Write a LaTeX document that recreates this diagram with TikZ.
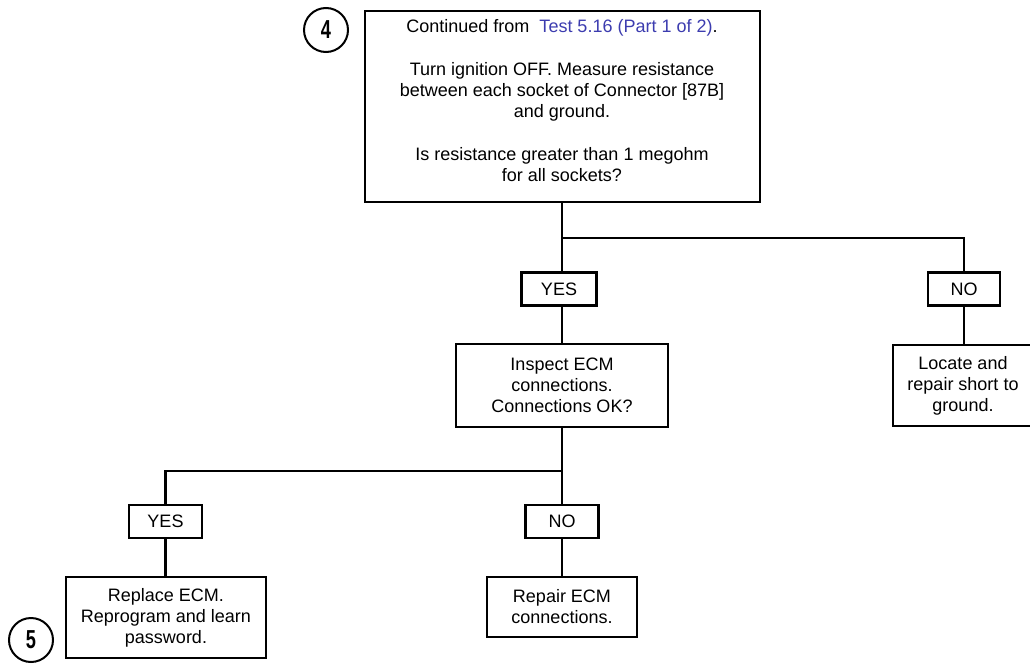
\documentclass[tikz,border=0pt]{standalone}
\usepackage{fontspec}
\setmainfont{Liberation Sans}
\usetikzlibrary{positioning}
\definecolor{linkblue}{RGB}{60,60,175}
\begin{document}
\begin{tikzpicture}[x=1pt,y=-1pt,
  every node/.style={inner sep=0pt, outer sep=0pt},
  boxed/.style={draw=black, line width=2.3pt, rectangle, align=center,
    font=\fontsize{18}{21}\selectfont},
  plain/.style={align=center, font=\fontsize{18}{21}\selectfont},
  lbl/.style={boxed, minimum width=75pt, minimum height=33pt},
  circ/.style={draw=black, circle, line width=2pt, minimum size=44pt,
    font=\fontsize{26}{26}\selectfont\bfseries},
  conn/.style={line width=2.2pt}]
\useasboundingbox (0,0) rectangle (1030,664);
\node[boxed, minimum width=395pt, minimum height=191pt] (top) at (562.5,106.5) {};
\node[plain] (toptext) at (562,101)
  {Continued from \ \textcolor{linkblue}{Test 5.16 (Part 1 of 2)}.\\[22pt]
   Turn ignition OFF. Measure resistance\\
   between each socket of Connector [87B]\\
   and ground.\\[22pt]
   Is resistance greater than 1 megohm\\
   for all sockets?};
\node[circ] (c4) at (326,30) {\scalebox{0.7}[1]{4}};
\node[lbl] (yes1) at (559,289) {YES};
\node[lbl, minimum width=72pt] (no1) at (964,289) {NO};
\node[boxed, minimum width=212pt, minimum height=83pt] (inspect) at (562,385.5)
  {Inspect ECM\\connections.\\Connections OK?};
\node[boxed, minimum width=140pt, minimum height=81pt] (locate) at (963,385.5)
  {Locate and\\repair short to\\ground.};
\node[lbl, minimum width=73pt] (yes2) at (165.5,521.5) {YES};
\node[lbl, minimum width=73pt] (no2) at (562,521.5) {NO};
\node[boxed, minimum width=200pt, minimum height=81pt] (replace) at (166,617.5)
  {Replace ECM.\\Reprogram and learn\\password.};
\node[boxed, minimum width=150pt, minimum height=60pt] (repair) at (562,607)
  {Repair ECM\\connections.};
\node[circ] (c5) at (31,640) {\scalebox{0.7}[1]{5}};
\coordinate (j1) at (562,238);
\coordinate (j2) at (562,471);
\draw[conn] (top.south -| j1) -- (j1) -- (yes1.north -| j1);
\draw[conn] (j1) -| (no1.north);
\draw[conn] (yes1.south -| j1) -- (inspect.north -| j1);
\draw[conn] (no1.south) -- (locate.north -| no1.south);
\draw[conn] (inspect.south -| j2) -- (j2) -- (no2.north -| j2);
\draw[conn] (j2) -| (yes2.north);
\draw[conn] (yes2.south) -- (replace.north -| yes2.south);
\draw[conn] (no2.south -| j2) -- (repair.north -| j2);
\end{tikzpicture}
\end{document}
